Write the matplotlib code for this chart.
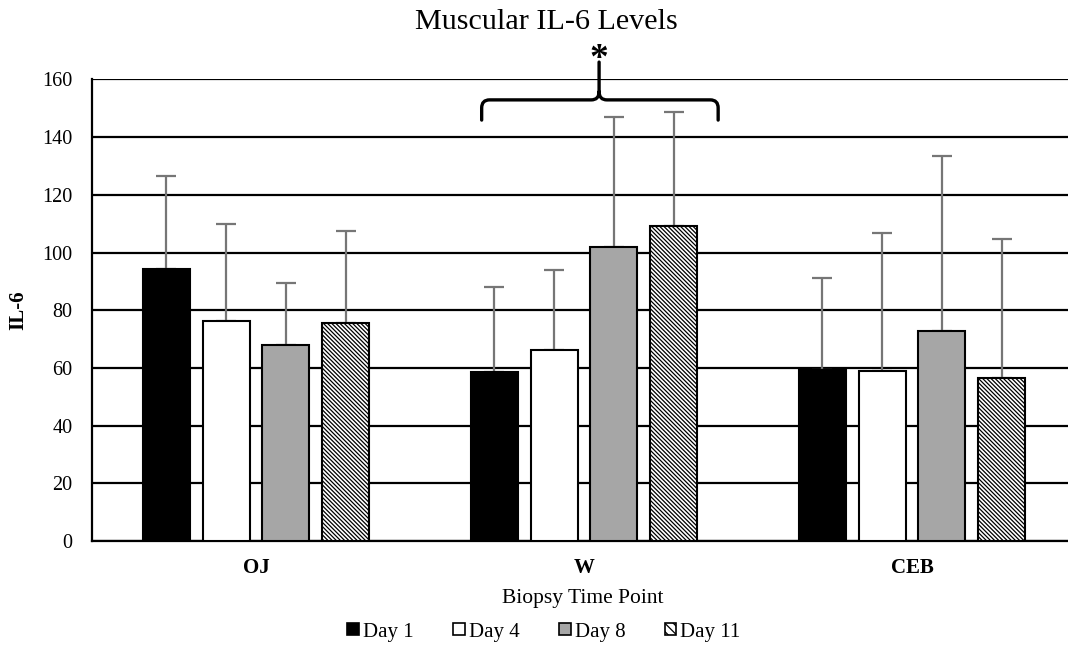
import matplotlib
matplotlib.use("Agg")
import matplotlib.pyplot as plt
from matplotlib.patches import Patch, PathPatch
from matplotlib.path import Path
import numpy as np

plt.rcParams['font.family'] = ['Liberation Serif', 'DejaVu Serif']
plt.rcParams['hatch.linewidth'] = 0.9

categories = ["OJ", "W", "CEB"]
series = ["Day 1", "Day 4", "Day 8", "Day 11"]
day1 = [94.2, 58.5, 59.2]
day4 = [76.4, 66.1, 58.9]
day8 = [67.9, 101.8, 72.8]
day11 = [75.5, 109.1, 56.4]
err_day1 = [32.2, 29.6, 31.8]
err_day4 = [33.5, 27.8, 47.8]
err_day8 = [21.4, 45.0, 60.8]
err_day11 = [31.9, 39.6, 48.3]
yticks = [0, 20, 40, 60, 80, 100, 120, 140, 160]

values = [day1, day4, day8, day11]
errors = [err_day1, err_day4, err_day8, err_day11]
faces = ["black", "white", "#a6a6a6", "white"]
hatches = [None, None, None, "\\" * 8]
legend_hatches = [None, None, None, "\\" * 4]

W, H = 1068, 649
fig = plt.figure(figsize=(W / 100, H / 100), dpi=100)
ax = fig.add_axes([92 / W, (H - 541) / H, 984 / W, 461.6 / H])

x = np.arange(len(categories))
pitch = 0.182
bw = 0.143
for i, (vals, errs) in enumerate(zip(values, errors)):
    pos = x + (i - 1.5) * pitch
    ax.errorbar(pos, vals, yerr=[np.zeros(len(errs)), errs], fmt='none',
                ecolor='#767676', elinewidth=1.6, capsize=7, capthick=1.6, zorder=2)
    ax.bar(pos, vals, width=bw, color=faces[i], edgecolor='black', linewidth=1.5,
           hatch=hatches[i], zorder=3)

ax.set_xlim(-0.5, 2.5)
ax.set_ylim(0, 160)
ax.set_yticks(yticks)
ax.set_xticks(x)
ax.set_xticklabels(categories, fontweight='bold', fontsize=15)
ax.tick_params(axis='y', length=0, pad=14, labelsize=14.5)
ax.tick_params(axis='x', length=0, pad=12)
ax.yaxis.grid(True, color='black', linewidth=1.6, zorder=0)
ax.set_axisbelow(True)
for s in ['top', 'right']:
    ax.spines[s].set_visible(False)
ax.spines['left'].set_linewidth(1.6)
ax.spines['bottom'].set_linewidth(1.6)

# significance brace over W group
yh, yt, yc = 152.9, 145.9, 166.0
xl, xr, xm = 0.688, 1.409, 1.046
rx, ry = 0.024, 2.8
verts = [(xl, yt), (xl, yh - ry), (xl, yh), (xl + rx, yh), (xm - rx, yh), (xm, yh), (xm, yh + ry), (xm, yc),
         (xm, yh + ry), (xm, yh), (xm + rx, yh), (xr - rx, yh), (xr, yh), (xr, yh - ry), (xr, yt)]
codes = [Path.MOVETO, Path.LINETO, Path.CURVE3, Path.CURVE3, Path.LINETO, Path.CURVE3, Path.CURVE3, Path.LINETO,
         Path.MOVETO, Path.CURVE3, Path.CURVE3, Path.LINETO, Path.CURVE3, Path.CURVE3, Path.LINETO]
ax.add_patch(PathPatch(Path(verts, codes), fill=False, lw=2.4, edgecolor='black',
                       clip_on=False, capstyle='round', joinstyle='round'))
fig.text(599 / W, 1 - 60 / H, "*", ha='center', va='center', fontsize=27, fontweight='bold')

fig.text(546 / W, 1 - 22 / H, "Muscular IL-6 Levels", ha='center', va='center', fontsize=21.7)
fig.text(583 / W, 1 - 598 / H, "Biopsy Time Point", ha='center', va='center', fontsize=15.5)
fig.text(18 / W, 1 - 310 / H, "IL-6", ha='center', va='center', rotation=90,
         fontsize=15, fontweight='bold')

handles = [Patch(facecolor=faces[i], edgecolor='black', hatch=legend_hatches[i], linewidth=1.2)
           for i in range(4)]
fig.legend(handles, series, loc='center', bbox_to_anchor=(544 / W, 1 - 632 / H), ncol=4,
           frameon=False, fontsize=15, handlelength=0.55, handleheight=0.55,
           handletextpad=0.2, columnspacing=1.9)

fig.savefig("out.png", dpi=100)
